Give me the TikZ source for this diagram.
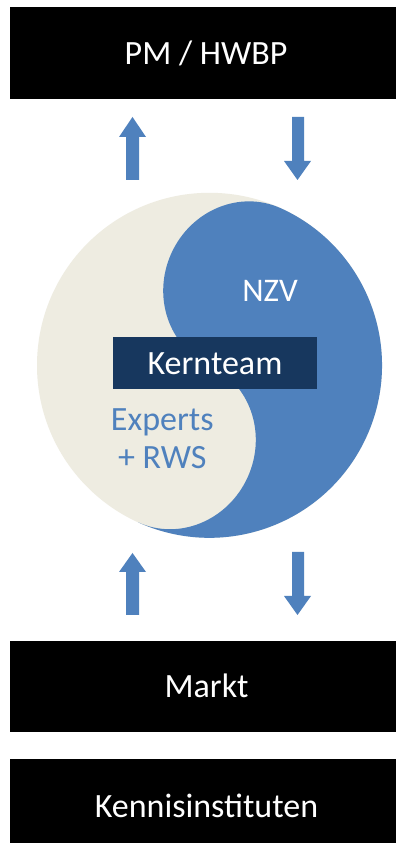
\documentclass[tikz,border=0pt]{standalone}
\usepackage{fontspec}
\setmainfont{Carlito}
\definecolor{blu}{HTML}{4F81BD}
\definecolor{tanbg}{HTML}{EEECE1}
\definecolor{navy}{HTML}{17375E}
\begin{document}
\begin{tikzpicture}[x=1pt,y=1pt,
  boxfill/.style={fill=black},
  boxtext/.style={text=white, font=\fontsize{34}{40}\selectfont, anchor=base, inner sep=0pt},
  arrowfill/.style={fill=blu},
  bluetext/.style={text=blu, font=\fontsize{34}{37.6}\selectfont, align=center, inner sep=0pt}]
\useasboundingbox (0,0) rectangle (396,843);
\fill[white] (0,0) rectangle (396,843);

% top box
\fill[boxfill] (10,836) rectangle (396,744);
\node[boxtext] (pm) at (206,778) {PM / HWBP};

% upper arrows
\fill[arrowfill] (132.5,726) -- (146,706) -- (139,706) -- (139,663) -- (126,663) -- (126,706) -- (119,706) -- cycle;
\fill[arrowfill] (292,726) -- (304,726) -- (304,682) -- (311,682) -- (297.5,663) -- (284,682) -- (292,682) -- cycle;

% yin-yang
\fill[tanbg] (209.5,477.7) circle[radius=172.5];
\begin{scope}[shift={(209.5,477.7)}, rotate=-24.4]
\fill[blu] (0,172.5) arc[start angle=90,end angle=-90,radius=172.5]
  arc[start angle=-90,end angle=90,x radius=81,y radius=86.25]
  arc[start angle=-90,end angle=-270,x radius=81,y radius=86.25] -- cycle;
\end{scope}

% Kernteam
\fill[navy] (113,506) rectangle (317,454);
\node[boxtext] (kt) at (215,468.7) {Kernteam};
\node[boxtext, font=\fontsize{33}{37}\selectfont] (nzv) at (270,541.3) {NZV};
\node[bluetext, anchor=base] (exp) at (162.3,374.7) {Experts\\+ RWS};

% lower arrows
\fill[arrowfill] (132.5,290) -- (146,271) -- (139,271) -- (139,228) -- (126,228) -- (126,271) -- (119,271) -- cycle;
\fill[arrowfill] (292,291) -- (304,291) -- (304,247) -- (311,247) -- (297.5,228) -- (284,247) -- (292,247) -- cycle;

% bottom boxes
\fill[boxfill] (10,202) rectangle (396,111);
\node[boxtext] (markt) at (206.5,145) {Markt};
\fill[boxfill] (10,84) rectangle (396,0);
\node[boxtext] (kennis) at (206.5,25) {Kennisinstituten};
\end{tikzpicture}
\end{document}
